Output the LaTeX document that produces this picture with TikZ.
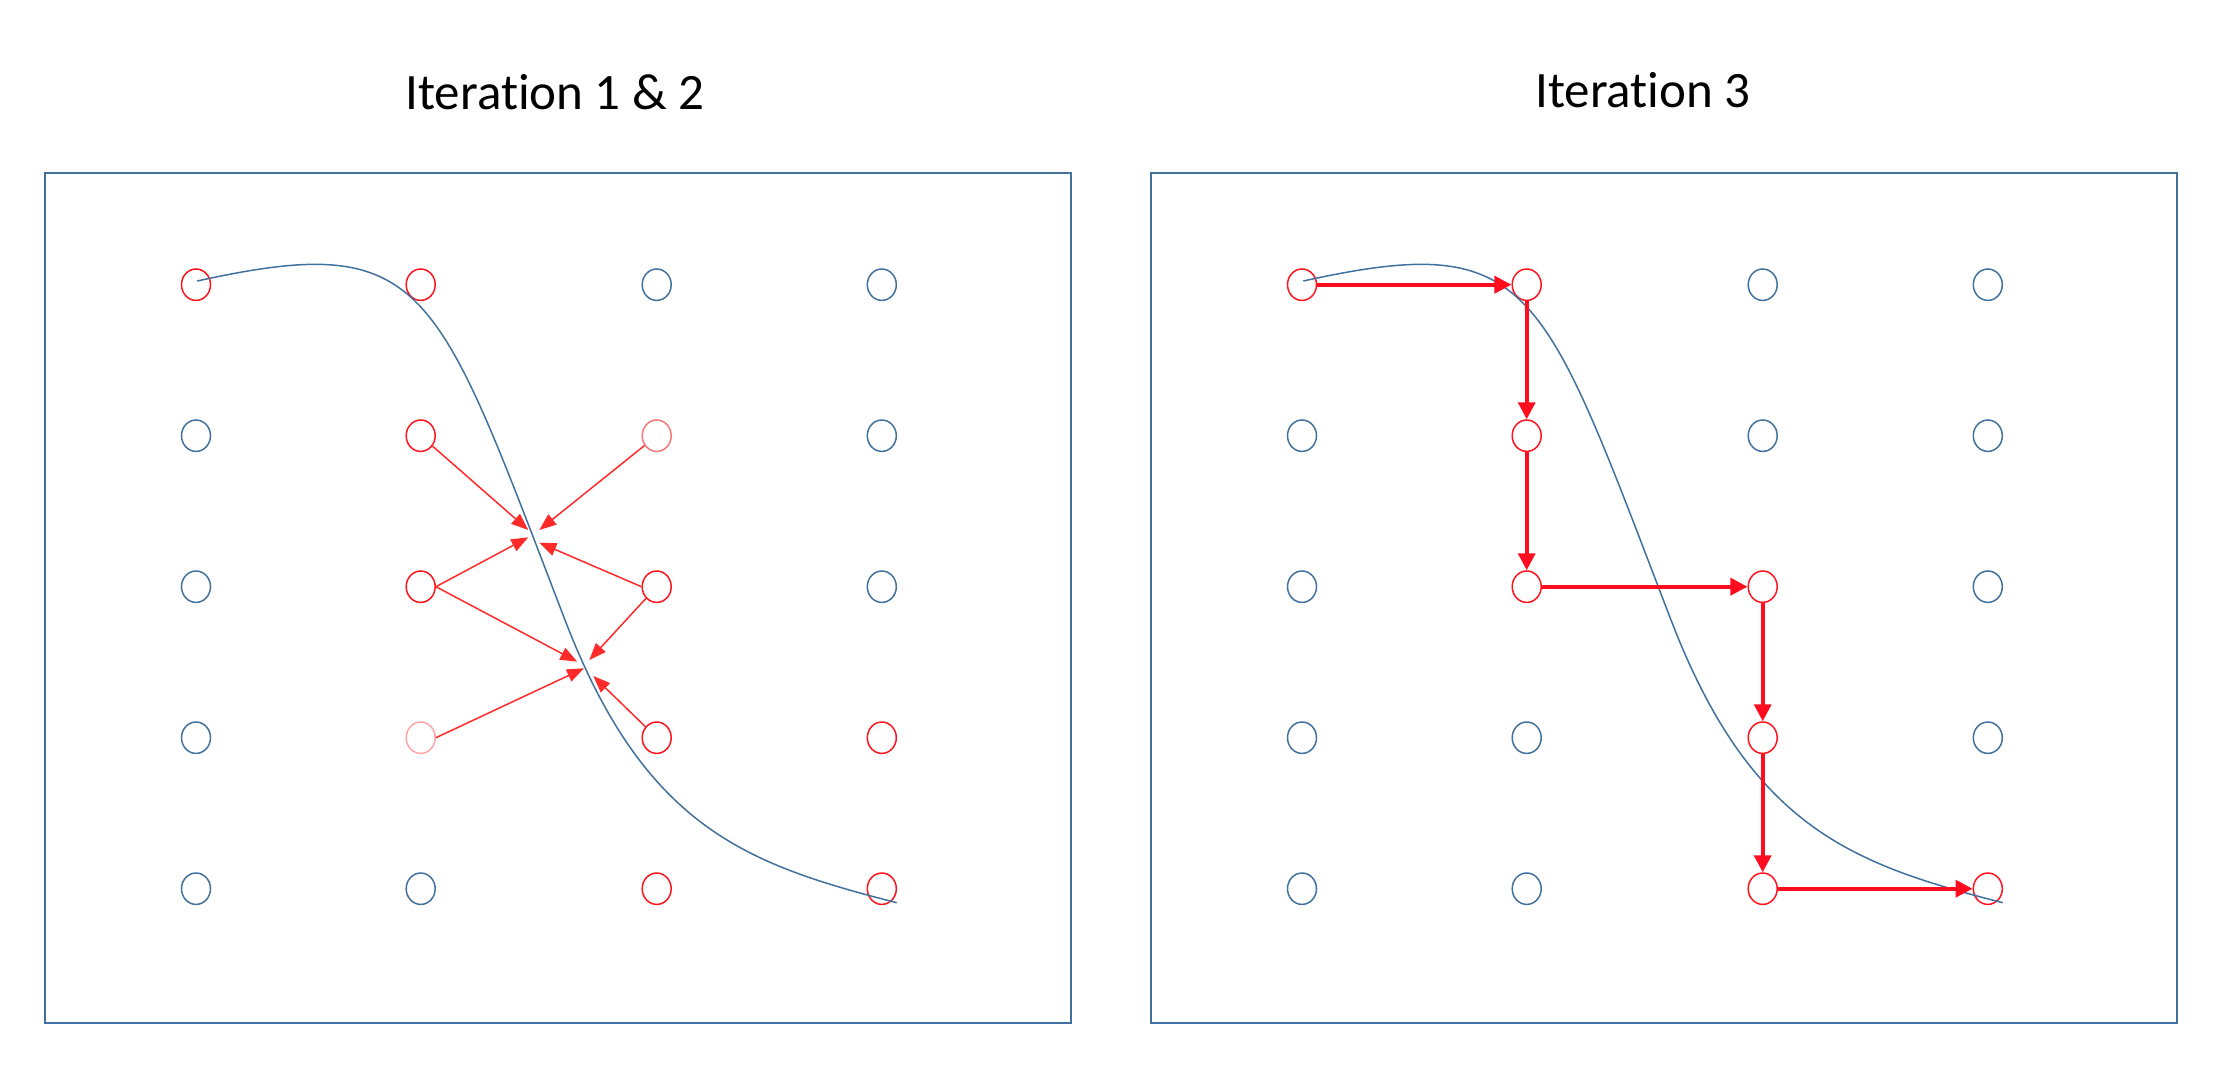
\documentclass[tikz,border=0pt]{standalone}
\usepackage{fontspec}
\setmainfont{Carlito}[Ligatures=NoCommon]
\usetikzlibrary{shapes.geometric,arrows.meta}
\definecolor{blu}{RGB}{65,113,156}
\definecolor{rd}{RGB}{255,20,30}
\definecolor{fadeA}{RGB}{244,120,120}
\definecolor{fadeB}{RGB}{255,165,165}
\definecolor{arL}{RGB}{255,42,42}
\definecolor{arR}{RGB}{255,13,30}
\tikzset{
  dot/.style={ellipse, draw=blu, line width=1.5pt, minimum width=29pt, minimum height=31.4pt, inner sep=0pt},
  rdot/.style={dot, draw=rd},
  fadot/.style={dot, draw=fadeA},
  fbdot/.style={dot, draw=fadeB},
  panel/.style={draw=blu, line width=1.8pt},
  curve/.style={draw=blu, line width=1.5pt},
  larrow/.style={draw=arL, line width=1.5pt, -{Triangle[length=17pt,width=13pt]}},
  rarrow/.style={draw=arR, line width=3.6pt, -{Triangle[length=17pt,width=17pt]}},
  title/.style={anchor=base, inner sep=0pt, font=\fontsize{51}{61}\selectfont}
}
\begin{document}
\begin{tikzpicture}[x=1pt, y=-1pt]
\useasboundingbox (0,0) rectangle (2224,1070);
% titles
\node[title] (t1) at (555,109.5) {Iteration 1 \& 2};
\node[title] (t2) at (1643,108) {Iteration 3};
% frames
\draw[panel] (45,173) rectangle (1070.7,1022.7);
\draw[panel] (1151,173) rectangle (2176.7,1022.7);

% ---------- left panel ----------
\node[rdot] (L11) at (196,284.7) {};
\node[rdot] (L12) at (420.7,284.7) {};
\node[dot]  (L13) at (656.7,284.7) {};
\node[dot]  (L14) at (881.8,284.7) {};
\node[dot]  (L21) at (196,435.7) {};
\node[rdot] (L22) at (420.7,435.7) {};
\node[fadot] (L23) at (656.7,435.7) {};
\node[dot]  (L24) at (881.8,435.7) {};
\node[dot]  (L31) at (196,586.7) {};
\node[rdot] (L32) at (420.7,586.7) {};
\node[rdot] (L33) at (656.7,586.7) {};
\node[dot]  (L34) at (881.8,586.7) {};
\node[dot]  (L41) at (196,737.7) {};
\node[fbdot] (L42) at (420.7,737.7) {};
\node[rdot] (L43) at (656.7,737.7) {};
\node[rdot] (L44) at (881.8,737.7) {};
\node[dot]  (L51) at (196,888.7) {};
\node[dot]  (L52) at (420.7,888.7) {};
\node[rdot] (L53) at (656.7,888.7) {};
\node[rdot] (L54) at (881.8,888.7) {};

\draw[curve] (197.3,281) .. controls (427.3,230.4) and (435,282) .. (565,620)
  .. controls (645,828) and (746.7,864.3) .. (896.7,902.7);

\coordinate (a1) at (528.3,530);
\coordinate (a2) at (539.3,530);
\coordinate (a3) at (528.3,537.3);
\coordinate (a4) at (539.3,542.7);
\coordinate (a5) at (577.3,661.7);
\coordinate (a6) at (589.3,660);
\coordinate (a7) at (584,668.3);
\coordinate (a8) at (593.3,676);
\draw[larrow] (L22) -- (a1);
\draw[larrow] (L23) -- (a2);
\draw[larrow] (L32.east) -- (a3);
\draw[larrow] (L33.west) -- (a4);
\draw[larrow] (L32.east) -- (a5);
\draw[larrow] (L33) -- (a6);
\draw[larrow] (L42.east) -- (a7);
\draw[larrow] (L43) -- (a8);

% ---------- right panel ----------
\begin{scope}[xshift=1106pt]
\node[rdot] (R11) at (196,284.7) {};
\node[rdot] (R12) at (420.7,284.7) {};
\node[dot]  (R13) at (656.7,284.7) {};
\node[dot]  (R14) at (881.8,284.7) {};
\node[dot]  (R21) at (196,435.7) {};
\node[rdot] (R22) at (420.7,435.7) {};
\node[dot]  (R23) at (656.7,435.7) {};
\node[dot]  (R24) at (881.8,435.7) {};
\node[dot]  (R31) at (196,586.7) {};
\node[rdot] (R32) at (420.7,586.7) {};
\node[rdot] (R33) at (656.7,586.7) {};
\node[dot]  (R34) at (881.8,586.7) {};
\node[dot]  (R41) at (196,737.7) {};
\node[dot]  (R42) at (420.7,737.7) {};
\node[rdot] (R43) at (656.7,737.7) {};
\node[dot]  (R44) at (881.8,737.7) {};
\node[dot]  (R51) at (196,888.7) {};
\node[dot]  (R52) at (420.7,888.7) {};
\node[rdot] (R53) at (656.7,888.7) {};
\node[rdot] (R54) at (881.8,888.7) {};

\draw[curve] (197.3,281) .. controls (427.3,230.4) and (435,282) .. (565,620)
  .. controls (645,828) and (746.7,864.3) .. (896.7,902.7);

\draw[rarrow] (R11) -- (R12);
\draw[rarrow] (R12) -- (R22);
\draw[rarrow] (R22) -- (R32);
\draw[rarrow] (R32) -- (R33);
\draw[rarrow] (R33) -- (R43);
\draw[rarrow] (R43) -- (R53);
\draw[rarrow] (R53) -- (R54);
\end{scope}
\end{tikzpicture}
\end{document}
